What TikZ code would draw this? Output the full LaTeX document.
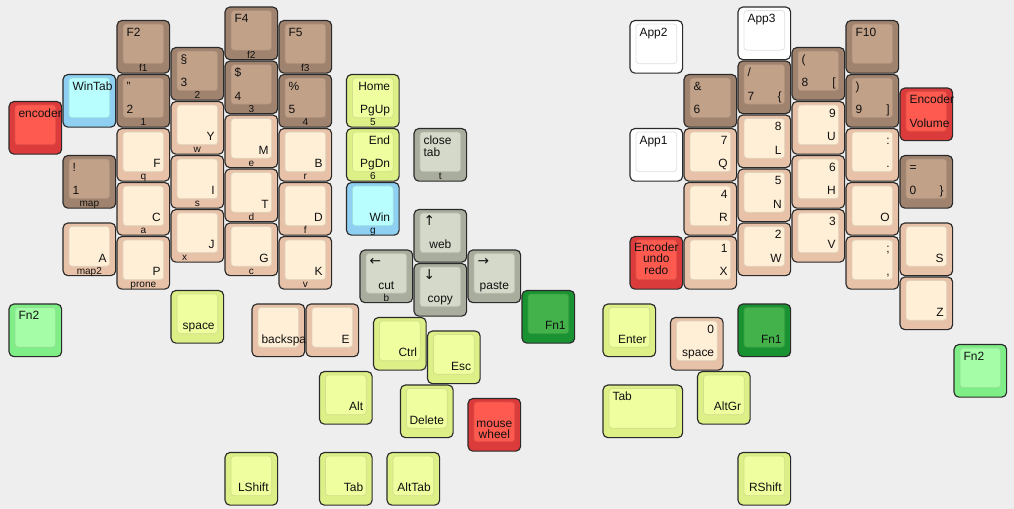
\documentclass[tikz,border=0pt]{standalone}
\usepackage{fontspec}
\setmainfont{Liberation Sans}
\newfontfamily\arrowfont{DejaVu Sans}
\definecolor{bg}{HTML}{EEEEEE}
\definecolor{keyedge}{HTML}{2A2A2A}
\definecolor{keytext}{HTML}{111111}
\definecolor{brownO}{HTML}{A0836E}
\definecolor{brownI}{HTML}{C2A189}
\definecolor{creamO}{HTML}{E8C2A8}
\definecolor{creamI}{HTML}{FFEFD6}
\definecolor{limeO}{HTML}{DCF087}
\definecolor{limeI}{HTML}{EFFE9E}
\definecolor{skyO}{HTML}{8FD0F2}
\definecolor{skyI}{HTML}{B8FEFF}
\definecolor{redO}{HTML}{DC3B3B}
\definecolor{redI}{HTML}{FF5A50}
\definecolor{greyO}{HTML}{A9AD9D}
\definecolor{greyI}{HTML}{D5D9C9}
\definecolor{dgreenO}{HTML}{199331}
\definecolor{dgreenI}{HTML}{43B24B}
\definecolor{lgreenO}{HTML}{7FEE86}
\definecolor{lgreenI}{HTML}{A5FDA8}
\newcommand\keyfont{\fontsize{6.3}{7.5}\selectfont}
\newcommand\frontfont{\fontsize{5.3}{6}\selectfont}
\newcommand\arr[1]{{\arrowfont\fontsize{7.2}{8}\selectfont #1}}

\begin{document}
\begin{tikzpicture}[
    keycap/.style 2 args={draw=keyedge, line width=0.6pt, fill=#1, rounded corners=2.6pt, anchor=north west,
        inner sep=0pt, outer sep=0pt, minimum width=0.975cm, minimum height=0.975cm,
        path picture={\draw[fill=#2, draw=#2!88!black, line width=0.4pt, rounded corners=1.6pt]
            ([xshift=0.111cm,yshift=-0.065cm]path picture bounding box.north west) rectangle
            ([xshift=-0.111cm,yshift=0.176cm]path picture bounding box.south east);}},
    browncap/.style={keycap={brownO}{brownI}},
    creamcap/.style={keycap={creamO}{creamI}},
    limecap/.style={keycap={limeO}{limeI}},
    skycap/.style={keycap={skyO}{skyI}},
    redcap/.style={keycap={redO}{redI}},
    greycap/.style={keycap={greyO}{greyI}},
    dgreencap/.style={keycap={dgreenO}{dgreenI}},
    lgreencap/.style={keycap={lgreenO}{lgreenI}},
    whitecap/.style={keycap={white}{white}},
    wide/.style={minimum width=1.475cm},
    lab/.style={font=\keyfont, inner sep=0pt, text=keytext},
    topleft/.style={lab, anchor=base west, xshift=0.17cm, yshift=-0.292cm},
    topleftb/.style={lab, anchor=base west, xshift=0.17cm, yshift=-0.51cm},
    botleft/.style={lab, anchor=base west, xshift=0.17cm, yshift=-0.724cm},
    topright/.style={lab, anchor=base east, xshift=-0.16cm, yshift=-0.292cm},
    botright/.style={lab, anchor=base east, xshift=-0.16cm, yshift=-0.724cm},
    botmid/.style={lab, anchor=base, yshift=-0.724cm},
    topmid/.style={lab, anchor=base, yshift=-#1},
    front/.style={lab, font=\frontfont, anchor=base, yshift=0.03cm},
    frontleft/.style={lab, font=\frontfont, anchor=base west, xshift=0.2cm, yshift=0.03cm}
  ]
  \fill[bg] (-0.167,0.13) rectangle (18.611,-9.296);

  % left half, number row and alpha keys
  \node[redcap, label={[topleft]north west:encoder}] (kEnc) at (0,-1.75) {};
  \node[skycap, label={[topleft]north west:WinTab}] (kWinTab) at (1,-1.25) {};
  \node[browncap, label={[topleft]north west:!}, label={[botleft]north west:1}, label={[front]south:map}] (kOne) at (1,-2.75) {};
  \node[creamcap, label={[botright]north east:A}, label={[front]south:map2}] (kA) at (1,-4) {};
  \node[browncap, label={[topleft]north west:F2}, label={[front]south:f1}] (kFtwo) at (2,-0.25) {};
  \node[browncap, label={[topleft]north west:"}, label={[botleft]north west:2}, label={[front]south:1}] (kTwo) at (2,-1.25) {};
  \node[creamcap, label={[botright]north east:F}, label={[front]south:q}] (kF) at (2,-2.25) {};
  \node[creamcap, label={[botright]north east:C}, label={[front]south:a}] (kC) at (2,-3.25) {};
  \node[creamcap, label={[botright]north east:P}, label={[front]south:prone}] (kP) at (2,-4.25) {};
  \node[browncap, label={[topleft]north west:§}, label={[botleft]north west:3}, label={[front]south:2}] (kThree) at (3,-0.75) {};
  \node[creamcap, label={[botright]north east:Y}, label={[front]south:w}] (kY) at (3,-1.75) {};
  \node[creamcap, label={[botright]north east:I}, label={[front]south:s}] (kI) at (3,-2.75) {};
  \node[creamcap, label={[botright]north east:J}, label={[frontleft]south west:x}] (kJ) at (3,-3.75) {};
  \node[browncap, label={[topleft]north west:F4}, label={[front]south:f2}] (kFfour) at (4,0) {};
  \node[browncap, label={[topleft]north west:\$}, label={[botleft]north west:4}, label={[front]south:3}] (kFour) at (4,-1) {};
  \node[creamcap, label={[botright]north east:M}, label={[front]south:e}] (kM) at (4,-2) {};
  \node[creamcap, label={[botright]north east:T}, label={[front]south:d}] (kT) at (4,-3) {};
  \node[creamcap, label={[botright]north east:G}, label={[front]south:c}] (kG) at (4,-4) {};
  \node[browncap, label={[topleft]north west:F5}, label={[front]south:f3}] (kFfive) at (5,-0.25) {};
  \node[browncap, label={[topleft]north west:\%}, label={[botleft]north west:5}, label={[front]south:4}] (kFive) at (5,-1.25) {};
  \node[creamcap, label={[botright]north east:B}, label={[front]south:r}] (kB) at (5,-2.25) {};
  \node[creamcap, label={[botright]north east:D}, label={[front]south:f}] (kD) at (5,-3.25) {};
  \node[creamcap, label={[botright]north east:K}, label={[front]south:v}] (kK) at (5,-4.25) {};
  \node[limecap, label={[topright]north east:Home}, label={[botright]north east:PgUp}, label={[front]south:5}] (kHome) at (6.25,-1.25) {};
  \node[limecap, label={[topright]north east:End}, label={[botright]north east:PgDn}, label={[front]south:6}] (kEnd) at (6.25,-2.25) {};
  \node[skycap, label={[botright]north east:Win}, label={[front]south:g}] (kWin) at (6.25,-3.25) {};

  % left arrows
  \node[greycap, label={[topleft]north west:close}, label={[topleftb]north west:tab}, label={[front]south:t}] (kClose) at (7.5,-2.25) {};
  \node[greycap, label={[topleft]north west:\arr{↑}}, label={[botmid]north:web}] (kUp) at (7.5,-3.75) {};
  \node[greycap, label={[topleft]north west:\arr{←}}, label={[botmid]north:cut}, label={[front]south:b}] (kLeft) at (6.5,-4.5) {};
  \node[greycap, label={[topleft]north west:\arr{↓}}, label={[botmid]north:copy}] (kDown) at (7.5,-4.75) {};
  \node[greycap, label={[topleft]north west:\arr{→}}, label={[botmid]north:paste}] (kRight) at (8.5,-4.5) {};

  % left thumb
  \node[lgreencap, label={[topleft]north west:Fn2}] (kFnTwoL) at (0,-5.5) {};
  \node[limecap, label={[botright]north east:space}] (kSpace) at (3,-5.25) {};
  \node[creamcap, label={[botleft]north west:backspa}] (kBksp) at (4.5,-5.5) {};
  \node[creamcap, label={[botright]north east:E}] (kE) at (5.5,-5.5) {};
  \node[limecap, label={[botright]north east:Ctrl}] (kCtrl) at (6.75,-5.75) {};
  \node[limecap, label={[botright]north east:Esc}] (kEsc) at (7.75,-6) {};
  \node[limecap, label={[botright]north east:Alt}] (kAlt) at (5.75,-6.75) {};
  \node[limecap, label={[botmid]north:Delete}] (kDel) at (7.25,-7) {};
  \node[redcap, label={[topmid=0.53cm]north:mouse}, label={[topmid=0.746cm]north:wheel}] (kWheel) at (8.5,-7.25) {};
  \node[limecap, label={[botright]north east:LShift}] (kLShift) at (4,-8.25) {};
  \node[limecap, label={[botright]north east:Tab}] (kTab) at (5.75,-8.25) {};
  \node[limecap, label={[botright]north east:AltTab}] (kAltTab) at (7,-8.25) {};
  \node[dgreencap, label={[botright]north east:Fn1}] (kFnOneL) at (9.5,-5.25) {};

  % right half
  \node[whitecap, label={[topleft]north west:App2}] (kAppTwo) at (11.5,-0.25) {};
  \node[whitecap, label={[topleft]north west:App3}] (kAppThree) at (13.5,0) {};
  \node[whitecap, label={[topleft]north west:App1}] (kAppOne) at (11.5,-2.25) {};
  \node[browncap, label={[topleft]north west:\&}, label={[botleft]north west:6}] (kSix) at (12.5,-1.25) {};
  \node[browncap, label={[topleft]north west:/}, label={[botleft]north west:7}, label={[botright]north east:\{}] (kSeven) at (13.5,-1) {};
  \node[browncap, label={[topleft]north west:(}, label={[botleft]north west:8}, label={[botright]north east:{[}}] (kEight) at (14.5,-0.75) {};
  \node[browncap, label={[topleft]north west:F10}] (kFten) at (15.5,-0.25) {};
  \node[browncap, label={[topleft]north west:)}, label={[botleft]north west:9}, label={[botright]north east:{]}}] (kNine) at (15.5,-1.25) {};
  \node[redcap, label={[topleft]north west:Encoder}, label={[botleft]north west:Volume}] (kVol) at (16.5,-1.5) {};
  \node[browncap, label={[topleft]north west:=}, label={[botleft]north west:0}, label={[botright]north east:\}}] (kZero) at (16.5,-2.75) {};
  \node[creamcap, label={[topright]north east:7}, label={[botright]north east:Q}] (kQ) at (12.5,-2.25) {};
  \node[creamcap, label={[topright]north east:4}, label={[botright]north east:R}] (kR) at (12.5,-3.25) {};
  \node[creamcap, label={[topright]north east:1}, label={[botright]north east:X}] (kX) at (12.5,-4.25) {};
  \node[creamcap, label={[topright]north east:8}, label={[botright]north east:L}] (kL) at (13.5,-2) {};
  \node[creamcap, label={[topright]north east:5}, label={[botright]north east:N}] (kN) at (13.5,-3) {};
  \node[creamcap, label={[topright]north east:2}, label={[botright]north east:W}] (kW) at (13.5,-4) {};
  \node[creamcap, label={[topright]north east:9}, label={[botright]north east:U}] (kU) at (14.5,-1.75) {};
  \node[creamcap, label={[topright]north east:6}, label={[botright]north east:H}] (kH) at (14.5,-2.75) {};
  \node[creamcap, label={[topright]north east:3}, label={[botright]north east:V}] (kV) at (14.5,-3.75) {};
  \node[creamcap, label={[topright]north east:{:}}, label={[botright]north east:.}] (kColon) at (15.5,-2.25) {};
  \node[creamcap, label={[botright]north east:O}] (kO) at (15.5,-3.25) {};
  \node[creamcap, label={[topright]north east:;}, label={[botright]north east:{,}}] (kComma) at (15.5,-4.25) {};
  \node[creamcap, label={[botright]north east:S}] (kS) at (16.5,-4) {};
  \node[creamcap, label={[botright]north east:Z}] (kZ) at (16.5,-5) {};
  \node[redcap, label={[topmid=0.272cm]north:Encoder}, label={[topmid=0.487cm]north:undo}, label={[topmid=0.703cm]north:redo}] (kUndo) at (11.5,-4.25) {};

  % right thumb
  \node[limecap, label={[botright]north east:Enter}] (kEnter) at (11,-5.5) {};
  \node[creamcap, label={[topright]north east:0}, label={[botright]north east:space}] (kSpaceR) at (12.25,-5.75) {};
  \node[dgreencap, label={[botright]north east:Fn1}] (kFnOneR) at (13.5,-5.5) {};
  \node[limecap, wide, label={[topleft]north west:Tab}] (kTabR) at (11,-7) {};
  \node[limecap, label={[botright]north east:AltGr}] (kAltGr) at (12.75,-6.75) {};
  \node[limecap, label={[botright]north east:RShift}] (kRShift) at (13.5,-8.25) {};
  \node[lgreencap, label={[topleft]north west:Fn2}] (kFnTwoR) at (17.5,-6.25) {};
\end{tikzpicture}
\end{document}
